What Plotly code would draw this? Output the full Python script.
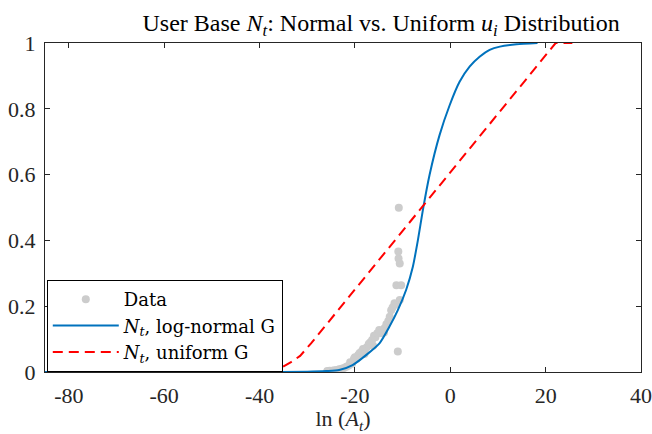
import plotly.graph_objects as go

# ---- data ----
data_x = [-25.8, -25.3, -24.8, -24.3, -23.8, -23.3, -22.8, -22.3, -21.8, -21.3,
          -21.0, -20.6, -20.2, -20.0, -19.6, -19.3, -19.0, -18.6, -18.3, -17.9,
          -17.5, -17.1, -16.8, -16.4, -16.0, -15.7, -15.3, -14.9, -14.5, -14.2,
          -13.8, -13.4, -13.0, -12.7, -12.4, -12.1, -11.7, -11.3, -10.6, -11.3,
          -10.3, -10.6, -10.85, -10.9, -10.8, -11.0, -18.0, -16.2, -13.9]
data_y = [0.003, 0.004, 0.004, 0.005, 0.006, 0.008, 0.010, 0.012, 0.016, 0.020,
          0.030, 0.025, 0.040, 0.045, 0.040, 0.052, 0.058, 0.062, 0.070, 0.066,
          0.075, 0.085, 0.090, 0.097, 0.110, 0.106, 0.118, 0.128, 0.118, 0.125,
          0.133, 0.145, 0.155, 0.168, 0.188, 0.196, 0.209, 0.205, 0.219, 0.264,
          0.264, 0.330, 0.345, 0.366, 0.499, 0.062, 0.055, 0.080, 0.120]

lognorm_x = [-85, -40, -30, -26.0, -23.3, -20.5, -17.6, -14.85, -12.75, -11.0,
             -9.25, -7.85, -6.8, -5.75, -4.35, -2.25, -0.15, 1.95, 4.05, 6.15,
             8.26, 10.4, 13.9, 18.3]
lognorm_y = [0.0, 0.0, 0.001, 0.003, 0.006, 0.021, 0.052, 0.087, 0.138, 0.188,
             0.25, 0.32, 0.40, 0.492, 0.599, 0.72, 0.81, 0.882, 0.928, 0.958,
             0.979, 0.989, 0.996, 1.0]

uniform_x = [-45, -40, -37, -35.2, -33.5, -31.5, -29.2, -5.8, 22.1, 25.6]
uniform_y = [0.0, 0.002, 0.007, 0.015, 0.029, 0.049, 0.087, 0.504, 1.0, 1.0]

x_ticks = [-80, -60, -40, -20, 0, 20, 40]
x_tick_labels = ["-80", "-60", "-40", "-20", "0", "20", "40"]
y_ticks = [0, 0.2, 0.4, 0.6, 0.8, 1]
y_tick_labels = ["0", "0.2", "0.4", "0.6", "0.8", "1"]

FONT = "Liberation Serif"
LEGEND_FONT = "DejaVu Serif"
AX = "#262626"

fig = go.Figure()
fig.add_trace(go.Scatter(
    x=data_x, y=data_y, mode="markers", name="Data",
    marker=dict(color="#cccccc", size=8, line=dict(width=0)),
))
fig.add_trace(go.Scatter(
    x=lognorm_x, y=lognorm_y, mode="lines", line_shape="spline",
    line_smoothing=0.6,
    name="<i>N<sub>t</sub></i>, log-normal G",
    line=dict(color="#0072BD", width=2),
))
fig.add_trace(go.Scatter(
    x=uniform_x, y=uniform_y, mode="lines", line_shape="linear",
    name="<i>N<sub>t</sub></i>, uniform G",
    line=dict(color="#FF0000", width=2, dash="10px,6px"),
))

axis_common = dict(
    showline=True, linecolor=AX, linewidth=1, mirror="ticks",
    ticks="inside", ticklen=5, tickcolor=AX, tickwidth=1,
    showgrid=False, zeroline=False, automargin=False,
    tickfont=dict(family=FONT, size=22, color=AX),
)

fig.update_layout(
    template="none",
    width=652, height=434,
    margin=dict(l=45, r=11, t=43, b=62),
    paper_bgcolor="white", plot_bgcolor="white",
    title=dict(
        text="User Base <i>N<sub>t</sub></i>: Normal vs. Uniform <i>u<sub>i</sub></i> Distribution",
        font=dict(family=FONT, size=24, color="black"),
        x=0.564, xanchor="center", xref="paper", y=0.947, yanchor="middle",
    ),
    xaxis=dict(range=[-85, 40], tickvals=x_ticks, ticktext=x_tick_labels,
               ticklabelstandoff=4,
               title=dict(text="ln (<i>A<sub>t</sub></i>)",
                          font=dict(family=FONT, size=22, color=AX), standoff=4),
               **axis_common),
    yaxis=dict(range=[0, 1], tickvals=y_ticks, ticktext=y_tick_labels,
               ticklabelstandoff=4, **axis_common),
    legend=dict(
        x=0.003, y=0, xanchor="left", yanchor="bottom",
        bgcolor="white", bordercolor="black", borderwidth=1,
        font=dict(family=LEGEND_FONT, size=18, color="black"),
        itemwidth=66, tracegroupgap=0,
    ),
    showlegend=True,
)

fig.write_html("out.html", config={"displayModeBar": False},
               post_script="document.body.style.margin='0px';")
